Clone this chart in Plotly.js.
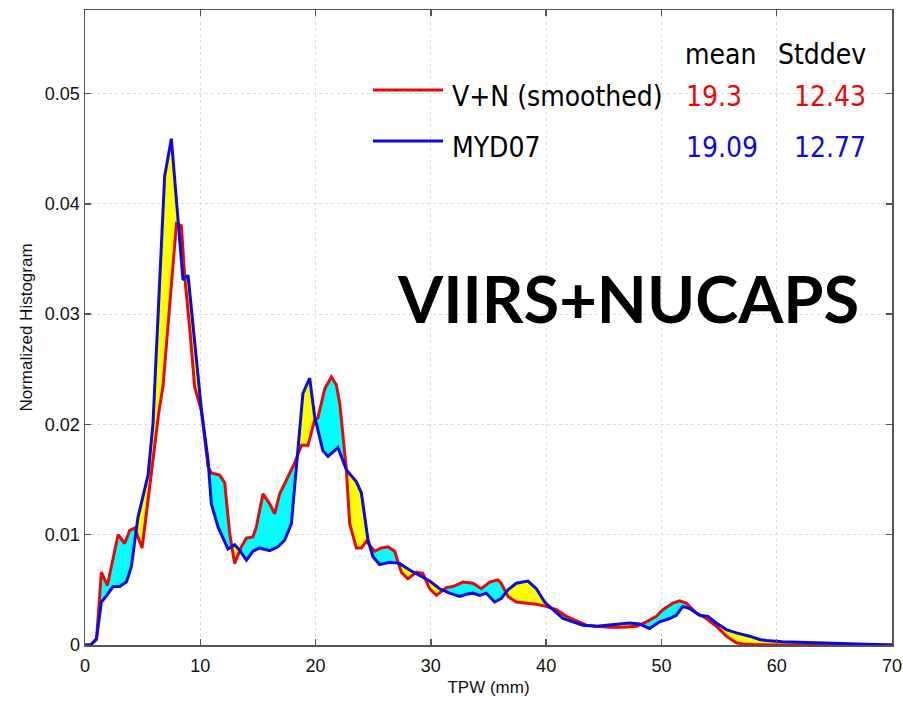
<!DOCTYPE html>
<html>
<head>
<meta charset="utf-8">
<script src="https://cdn.plot.ly/plotly-3.0.1.min.js"></script>
<style>html,body{margin:0;padding:0;background:#fff;}#chart{width:903px;height:704px;}</style>
</head>
<body>
<div id="chart"></div>
<script>
// V+N (smoothed) histogram
const vnX = [0,0.5,1.0,1.42,1.94,2.87,3.44,3.88,4.31,4.95,5.76,6.39,6.77,7.3,7.93,8.36,8.65,9.1,9.51,10.1,10.67,10.96,11.68,12.12,12.55,12.98,13.56,14.0,14.57,14.86,15.44,16.02,16.45,16.89,17.5,18.19,18.77,19.34,19.92,20.2,20.79,21.37,21.8,22.1,22.67,22.96,23.54,23.97,24.4,25.13,25.7,26.28,26.86,27.44,28.0,28.74,29.3,29.9,30.48,31.34,31.92,32.78,33.65,34.38,35.1,35.82,36.1,36.69,37.41,38.28,39.15,40.0,40.88,41.75,42.62,43.49,44.35,45.5,46.66,47.82,48.69,49.56,50.13,51.0,51.58,52.16,53.03,53.9,54.76,55.63,56.5,57.07,58,60,65,70];
const vnY = [0,0,0.0005,0.0066,0.0054,0.0100,0.0092,0.0104,0.0106,0.0088,0.0156,0.0210,0.0235,0.0300,0.0382,0.0380,0.0334,0.0285,0.0234,0.0212,0.0162,0.0156,0.0154,0.0147,0.0101,0.0074,0.0089,0.0097,0.0098,0.0107,0.0137,0.0128,0.0119,0.0137,0.0150,0.0165,0.0181,0.0181,0.0204,0.0206,0.0232,0.0243,0.0236,0.0219,0.0159,0.0110,0.0088,0.0088,0.0094,0.0085,0.0088,0.0089,0.0085,0.0066,0.0060,0.0066,0.0065,0.0051,0.0045,0.0052,0.0053,0.0057,0.0056,0.0051,0.0057,0.0059,0.0056,0.0044,0.0039,0.0038,0.0037,0.0035,0.0032,0.0026,0.0022,0.0018,0.0017,0.0016,0.0016,0.0017,0.0021,0.0026,0.0032,0.0038,0.0040,0.0038,0.0029,0.0024,0.0017,0.0008,0.0002,0.0001,0.00005,0,0,0];
// MYD07 histogram
const mydX = [0,0.5,1.0,1.42,1.9,2.43,3.0,3.59,4.02,4.6,5.47,5.9,6.05,6.91,7.49,8.07,8.5,8.94,9.3,9.66,10.1,10.67,10.96,11.54,12.4,12.98,13.4,14.0,14.57,15.15,16.02,16.74,17.32,17.9,18.33,18.9,19.49,19.92,20.64,21.08,21.94,22.67,23.54,23.97,24.55,24.98,25.56,26.43,27.29,28.16,29.03,29.9,30.76,31.63,32.5,33.08,33.65,34.23,34.81,35.53,36.1,36.69,37.41,38.42,39.15,39.87,40.59,41.46,42.32,43.19,44.35,45.5,46.37,47.24,48.1,48.97,49.84,50.71,51.29,51.86,52.44,53.31,54.03,54.76,55.63,56.5,57.65,58.52,59.1,60.5,63.4,66.3,70];
const mydY = [0,0,0.0006,0.0039,0.0045,0.0053,0.0053,0.0057,0.0071,0.0116,0.0154,0.0201,0.0235,0.0425,0.0459,0.0383,0.0331,0.0335,0.0297,0.0260,0.0213,0.0168,0.0128,0.0107,0.0087,0.0091,0.0086,0.0077,0.0085,0.0088,0.00855,0.0089,0.0095,0.0110,0.0159,0.0228,0.0242,0.0207,0.0176,0.0171,0.0179,0.0159,0.0148,0.0138,0.0095,0.0080,0.0073,0.0075,0.0074,0.0068,0.0063,0.0058,0.0051,0.0047,0.0044,0.0046,0.0047,0.0045,0.0047,0.0039,0.0042,0.0050,0.0056,0.0058,0.0051,0.0039,0.0032,0.0024,0.0021,0.0018,0.0017,0.0018,0.0019,0.0020,0.0019,0.0015,0.0021,0.0024,0.0027,0.0035,0.0033,0.0027,0.0026,0.0020,0.0014,0.0011,0.0008,0.0005,0.0004,0.0003,0.0002,0.0001,0];

const seriesNames = ["V+N (smoothed)", "MYD07"];
const meanVals = ["19.3", "19.09"];
const stdVals = ["12.43", "12.77"];
const xTicks = [0,10,20,30,40,50,60,70];
const yTicks = [0,0.01,0.02,0.03,0.04,0.05];

const RED = 'rgb(232,8,8)';
const BLUE = 'rgb(10,10,225)';

function interp(xs, ys, x) {
  if (x <= xs[0]) return ys[0];
  for (let i = 1; i < xs.length; i++) {
    if (x <= xs[i]) {
      const t = (x - xs[i-1]) / (xs[i] - xs[i-1]);
      return ys[i-1] + t * (ys[i] - ys[i-1]);
    }
  }
  return ys[ys.length-1];
}
// merged grid with crossing points
let grid = Array.from(new Set(vnX.concat(mydX))).sort((a,b)=>a-b);
let gx = [], gr = [], gb = [];
for (let i = 0; i < grid.length; i++) {
  const x = grid[i], r = interp(vnX, vnY, x), b = interp(mydX, mydY, x);
  if (i > 0) {
    const px0 = gx[gx.length-1], pr = gr[gr.length-1], pb = gb[gb.length-1];
    const d0 = pr - pb, d1 = r - b;
    if (d0 * d1 < 0) {
      const t = d0 / (d0 - d1);
      const cx = px0 + t * (x - px0);
      const cy = pr + t * (r - pr);
      gx.push(cx); gr.push(cy); gb.push(cy);
    }
  }
  gx.push(x); gr.push(r); gb.push(b);
}
const gmax = gx.map((_, i) => Math.max(gr[i], gb[i]));

const traces = [
  {x: gx, y: gr, mode: 'lines', line: {width: 0}, hoverinfo: 'skip', showlegend: false},
  {x: gx, y: gmax, mode: 'lines', line: {width: 0}, fill: 'tonexty', fillcolor: 'rgb(255,255,0)', hoverinfo: 'skip', showlegend: false},
  {x: gx, y: gb, mode: 'lines', line: {width: 0}, hoverinfo: 'skip', showlegend: false},
  {x: gx, y: gmax, mode: 'lines', line: {width: 0}, fill: 'tonexty', fillcolor: 'rgb(0,255,255)', hoverinfo: 'skip', showlegend: false},
  {x: vnX, y: vnY, mode: 'lines', name: seriesNames[0], line: {color: RED, width: 3}, showlegend: false},
  {x: mydX, y: mydY, mode: 'lines', name: seriesNames[1], line: {color: BLUE, width: 3}, showlegend: false}
];

const L = 85, T = 10, W = 807, H = 635;
const px = v => (v - L) / W;
const py = v => (T + H - v) / H;
const narrow = 'DejaVu Sans Condensed, Liberation Sans Narrow, sans-serif';

const ann = [
  {text: 'mean', x: px(720), y: py(55), xanchor: 'center', color: '#000'},
  {text: 'Stddev', x: px(868), y: py(55), xanchor: 'right', color: '#000'},
  {text: seriesNames[0], x: px(450), y: py(97), xanchor: 'left', color: '#000'},
  {text: meanVals[0], x: px(684), y: py(97), xanchor: 'left', color: RED},
  {text: stdVals[0], x: px(868), y: py(97), xanchor: 'right', color: RED},
  {text: seriesNames[1], x: px(450), y: py(147), xanchor: 'left', color: '#000'},
  {text: meanVals[1], x: px(684), y: py(147), xanchor: 'left', color: BLUE},
  {text: stdVals[1], x: px(868), y: py(147), xanchor: 'right', color: BLUE}
].map(a => ({xref: 'paper', yref: 'paper', x: a.x, y: a.y, xanchor: a.xanchor, yanchor: 'middle',
  text: a.text, showarrow: false, font: {family: narrow, size: 28, color: a.color, stretch: 'condensed'}}));
ann.push({xref: 'paper', yref: 'paper', x: px(628), y: py(298), xanchor: 'center', yanchor: 'middle',
  text: '<b>VIIRS+NUCAPS</b>', showarrow: false, font: {family: 'Lato, Open Sans, sans-serif', size: 65, color: '#000'}});

const shapes = [
  {type: 'line', xref: 'paper', yref: 'paper', x0: px(373), x1: px(443), y0: py(90), y1: py(90), line: {color: RED, width: 3}},
  {type: 'line', xref: 'paper', yref: 'paper', x0: px(373), x1: px(443), y0: py(141), y1: py(141), line: {color: BLUE, width: 3}}
];

const axisCommon = {
  showline: true, mirror: 'ticks', linecolor: '#555', linewidth: 1.5,
  ticks: 'inside', ticklen: 6, tickcolor: '#555', tickwidth: 1.5,
  showgrid: true, gridcolor: '#dcdcdc', griddash: 'dot', gridwidth: 1,
  zeroline: false, tickfont: {family: 'Liberation Sans, Arial, sans-serif', size: 18, color: '#111'}
};

const layout = {
  width: 903, height: 704,
  margin: {l: L, r: 903 - L - W, t: T, b: 704 - T - H, pad: 0},
  paper_bgcolor: '#fff', plot_bgcolor: '#fff',
  showlegend: false,
  xaxis: Object.assign({}, axisCommon, {range: [0, 70], tickvals: xTicks, ticktext: xTicks.map(String), ticklabelstandoff: 4,
    title: {text: 'TPW (mm)', font: {family: 'Liberation Sans, Arial, sans-serif', size: 17, color: '#111'}, standoff: 6}}),
  yaxis: Object.assign({}, axisCommon, {range: [0, 0.05757], tickvals: yTicks, ticktext: yTicks.map(v => v === 0 ? '0' : v.toFixed(2)),
    title: {text: 'Normalized Histogram', font: {family: 'Liberation Sans, Arial, sans-serif', size: 17, color: '#111'}, standoff: 8}}),
  annotations: ann,
  shapes: shapes
};

Plotly.newPlot('chart', traces, layout, {displayModeBar: false, staticPlot: true});
</script>
</body>
</html>
